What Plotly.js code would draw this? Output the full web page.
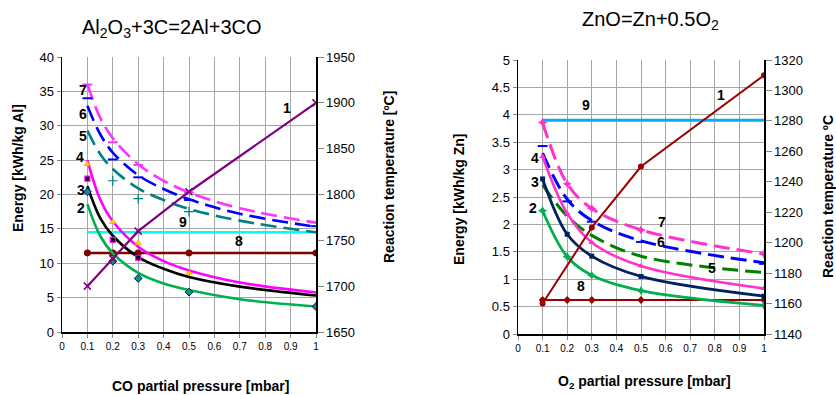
<!DOCTYPE html>
<html>
<head>
<meta charset="utf-8">
<script src="https://cdn.plot.ly/plotly-3.0.1.min.js"></script>
<style>html,body{margin:0;padding:0;background:#fff;}#chart{width:836px;height:395px;}</style>
</head>
<body>
<div id="chart"></div>
<script>
// ---------- Left chart: Al2O3 + 3C = 2Al + 3CO ----------
const pCO = [0.1, 0.2, 0.3, 0.5, 1.0];
const curveX = [0.1, 0.15, 0.2, 0.3, 0.4, 0.5, 0.7, 1.0];
const alCurve2 = [18.6, 14.0, 11.45, 8.6, 7.05, 6.1, 4.77, 3.7];
const alCurve3 = [21.2, 16.6, 14.0, 10.9, 9.2, 8.0, 6.6, 5.3];
const alCurve4 = [25.0, 19.3, 16.1, 12.4, 10.3, 8.95, 7.2, 5.75];
const alCurve5 = [29.3, 25.9, 23.7, 20.9, 19.2, 17.9, 16.2, 14.5];
const alCurve6 = [32.9, 28.8, 26.1, 22.8, 20.8, 19.3, 17.2, 15.3];
const alCurve7 = [36.0, 31.2, 28.2, 24.4, 22.0, 20.3, 18.0, 15.9];
const alPts2 = [20.4, 10.3, 7.8, 5.8, 3.7];
const alPts3X = [0.1, 0.2, 0.3];
const alPts3 = [22.3, 13.4, 10.8];
const alPts4X = [0.1, 0.2, 0.3, 0.5];
const alPts4 = [24.4, 16.0, 12.9, 8.6];
const alPts5X = [0.2, 0.3, 0.5];
const alPts5 = [22.0, 19.4, 17.5];
const alPts6 = [34.0, 25.1, 22.5, 19.2, 15.4];
const alPts7X = [0.1, 0.2, 0.3, 0.5];
const alPts7 = [36.0, 27.6, 24.3, 20.3];
const alTemp1 = [1700, 1730, 1760, 1803, 1900];
const alLine8 = [11.5, 11.5, 11.5, 11.5, 11.5];
const alLine9X = [0.1, 1.0];
const alLine9 = [14.5, 14.5];

// ---------- Right chart: ZnO = Zn + 0.5O2 ----------
const pO2 = [0.1, 0.2, 0.3, 0.5, 1.0];
const zn2 = [2.25, 1.41, 1.07, 0.79, 0.52];
const zn3 = [2.83, 1.82, 1.42, 1.05, 0.69];
const zn4 = [3.24, 2.2, 1.67, 1.24, 0.83];
const zn5 = [2.72, 2.15, 1.8, 1.42, 1.12];
const zn6 = [3.3, 2.46, 2.07, 1.70, 1.30];
const zn6Pts = [3.43, 2.42, 2.05, 1.68, 1.28];
const zn7 = [3.86, 2.74, 2.29, 1.90, 1.46];
const zn8 = [0.62, 0.62, 0.62, 0.62, 0.62];
const zn9X = [0.1, 1.0];
const zn9 = [3.9, 3.9];
const znTempX = [0.1, 0.3, 0.5, 1.0];
const znTemp1 = [1160, 1210, 1250, 1310];

const xTicks = [0, 0.1, 0.2, 0.3, 0.4, 0.5, 0.6, 0.7, 0.8, 0.9, 1];
const xTickText = ['0', '0.1', '0.2', '0.3', '0.4', '0.5', '0.6', '0.7', '0.8', '0.9', '1'];

const FONT = 'Liberation Sans, Arial, sans-serif';
const DASH = '16px,7px';
const sp = {shape: 'spline', smoothing: 1};

function curve(x, y, xa, ya, color, dash, w) {
  return {x: x, y: y, xaxis: xa, yaxis: ya, mode: 'lines', hoverinfo: 'skip',
    line: Object.assign({color: color, width: w || 2.6, dash: dash || 'solid'}, sp), showlegend: false};
}
function pts(x, y, xa, ya, symbol, fill, edge, size, lw) {
  return {x: x, y: y, xaxis: xa, yaxis: ya, mode: 'markers', showlegend: false,
    marker: {symbol: symbol, color: fill, size: size || 6, line: {color: edge, width: lw === undefined ? 1 : lw}}};
}

const traces = [
  // left chart
  curve(alLine9X, alLine9, 'x', 'y', '#00ffff', 'solid', 2.6),
  {x: pCO, y: alLine8, xaxis: 'x', yaxis: 'y', mode: 'lines+markers', showlegend: false,
    line: {color: '#800000', width: 2.4}, marker: {symbol: 'circle', size: 7, color: '#800000'}},
  curve(curveX, alCurve7, 'x', 'y', '#ff33ff', DASH),
  curve(curveX, alCurve6, 'x', 'y', '#0000ff', DASH),
  curve(curveX, alCurve5, 'x', 'y', '#008080', DASH),
  curve(curveX, alCurve4, 'x', 'y', '#ff00ff', 'solid'),
  curve(curveX, alCurve3, 'x', 'y', '#000000', 'solid'),
  curve(curveX, alCurve2, 'x', 'y', '#00b050', 'solid'),
  pts(alPts7X, alPts7, 'x', 'y', 'line-ew', '#ff33ff', '#ff33ff', 7, 2),
  pts(pCO, alPts6, 'x', 'y', 'line-ew', '#0000ff', '#0000ff', 7, 2),
  pts(alPts5X, alPts5, 'x', 'y', 'cross-thin', '#008080', '#008080', 7, 1.2),
  pts(alPts4X, alPts4, 'x', 'y', 'triangle-up', '#ffcc00', '#ff9900', 6, 0.6),
  pts(alPts3X, alPts3, 'x', 'y', 'square', '#000000', '#ff00ff', 5, 1.2),
  pts(pCO, alPts2, 'x', 'y', 'diamond', '#00a060', '#000080', 6, 1),
  {x: pCO, y: alTemp1, xaxis: 'x', yaxis: 'y2', mode: 'lines+markers', showlegend: false,
    line: {color: '#800080', width: 2.2}, marker: {symbol: 'x-thin', size: 7, line: {color: '#800080', width: 1.6}}},

  // right chart
  curve(zn9X, zn9, 'x2', 'y3', '#00b0f0', 'solid', 3),
  {x: pO2, y: zn8, xaxis: 'x2', yaxis: 'y3', mode: 'lines+markers', showlegend: false,
    line: {color: '#990000', width: 2}, marker: {symbol: 'diamond', size: 6, color: '#990000'}},
  {x: pO2, y: zn7, xaxis: 'x2', yaxis: 'y3', mode: 'lines+markers', showlegend: false,
    line: Object.assign({color: '#ff33cc', width: 3, dash: DASH}, sp), marker: {symbol: 'star-diamond', size: 7, color: '#ff33cc'}},
  curve(pO2, zn6, 'x2', 'y3', '#0000ff', DASH, 3),
  pts(pO2, zn6Pts, 'x2', 'y3', 'line-ew', '#0000ff', '#0000ff', 7, 2),
  curve(pO2, zn5, 'x2', 'y3', '#008000', DASH, 3),
  {x: pO2, y: zn4, xaxis: 'x2', yaxis: 'y3', mode: 'lines+markers', showlegend: false,
    line: Object.assign({color: '#ff33cc', width: 2.6}, sp), marker: {symbol: 'triangle-up', size: 6, color: '#ff33cc'}},
  {x: pO2, y: zn3, xaxis: 'x2', yaxis: 'y3', mode: 'lines+markers', showlegend: false,
    line: Object.assign({color: '#002060', width: 2.8}, sp), marker: {symbol: 'square', size: 5, color: '#002060'}},
  {x: pO2, y: zn2, xaxis: 'x2', yaxis: 'y3', mode: 'lines+markers', showlegend: false,
    line: Object.assign({color: '#00b050', width: 2.8}, sp), marker: {symbol: 'star-diamond', size: 7, color: '#00b050'}},
  {x: znTempX, y: znTemp1, xaxis: 'x2', yaxis: 'y4', mode: 'lines+markers', showlegend: false,
    line: {color: '#990000', width: 2}, marker: {symbol: 'circle', size: 6, color: '#990000'}}
];

const GRID = '#a6a6a6';
const tickFont = {family: FONT, size: 13, color: '#000'};
const xTickFont = {family: FONT, size: 10, color: '#000'};

function xAx(domain, anchor) {
  return {domain: domain, anchor: anchor, range: [0, 1], tickmode: 'array', tickvals: xTicks, ticktext: xTickText,
    showgrid: true, gridcolor: GRID, gridwidth: 1, showline: true, linecolor: '#000', linewidth: 1.5,
    ticks: 'outside', ticklen: 4, tickcolor: '#888', tickfont: xTickFont, zeroline: false, fixedrange: true};
}
function yAx(domain, anchor, range, dtick) {
  return {domain: domain, anchor: anchor, range: range, dtick: dtick, showgrid: true, gridcolor: GRID, gridwidth: 1,
    showline: true, linecolor: '#000', linewidth: 1.5, ticks: 'outside', ticklen: 4, tickcolor: '#888',
    tickfont: tickFont, zeroline: false, fixedrange: true};
}
function yRight(over, anchor, range, dtick) {
  return {overlaying: over, anchor: anchor, side: 'right', range: range, dtick: dtick, showgrid: false,
    showline: true, linecolor: '#000', linewidth: 1.5, ticks: 'outside', ticklen: 6, tickcolor: '#888',
    tickfont: tickFont, zeroline: false, fixedrange: true};
}

const lab = (x, y, t, xr, yr) => ({x: x, y: y, xref: xr, yref: yr, text: t, showarrow: false,
  font: {family: FONT, size: 14, color: '#000', weight: 'bold'}});
const pap = (x, y, t, size, bold, angle) => ({x: x, y: y, xref: 'paper', yref: 'paper', text: t, showarrow: false,
  textangle: angle || 0, xanchor: 'center', yanchor: 'middle',
  font: {family: FONT, size: size, color: '#000', weight: bold ? 'bold' : 'normal'}});

const H = 395, W = 836;
const annotations = [
  pap(172 / W, 1 - 28 / H, 'Al<sub>2</sub>O<sub>3</sub>+3C=2Al+3CO', 20, false),
  pap(650 / W, 1 - 20 / H, 'ZnO=Zn+0.5O<sub>2</sub>', 20, false),
  pap(200 / W, 1 - 386 / H, 'CO partial pressure [mbar]', 14, true),
  pap(644 / W, 1 - 382 / H, 'O<sub>2</sub> partial pressure [mbar]', 14, true),
  pap(18 / W, 1 - 168 / H, 'Energy [kWh/kg Al]', 14, true, -90),
  pap(389 / W, 1 - 177 / H, 'Reaction temperature [ºC]', 14, true, -90),
  pap(459 / W, 1 - 199 / H, 'Energy [kWh/kg Zn]', 14, true, -90),
  pap(828 / W, 1 - 197 / H, 'Reaction temperature ºC', 14, true, -90),
  lab(0.886, 32.6, '1', 'x', 'y'), lab(0.075, 18.0, '2', 'x', 'y'), lab(0.075, 20.6, '3', 'x', 'y'),
  lab(0.071, 25.5, '4', 'x', 'y'), lab(0.083, 28.5, '5', 'x', 'y'), lab(0.083, 31.7, '6', 'x', 'y'),
  lab(0.083, 35.2, '7', 'x', 'y'), lab(0.476, 16.0, '9', 'x', 'y'), lab(0.697, 13.2, '8', 'x', 'y'),
  lab(0.825, 4.36, '1', 'x2', 'y3'), lab(0.276, 4.18, '9', 'x2', 'y3'), lab(0.069, 3.21, '4', 'x2', 'y3'),
  lab(0.069, 2.77, '3', 'x2', 'y3'), lab(0.061, 2.30, '2', 'x2', 'y3'), lab(0.585, 2.04, '7', 'x2', 'y3'),
  lab(0.581, 1.68, '6', 'x2', 'y3'), lab(0.789, 1.20, '5', 'x2', 'y3'), lab(0.256, 0.88, '8', 'x2', 'y3')
];

const layout = {
  width: W, height: H, margin: {l: 0, r: 0, t: 0, b: 0}, paper_bgcolor: '#fff', plot_bgcolor: '#fff',
  showlegend: false, font: {family: FONT, color: '#000'},
  xaxis: xAx([62 / W, 316 / W], 'y'),
  yaxis: yAx([63 / H, 338 / H], 'x', [0, 40], 5),
  yaxis2: yRight('y', 'x', [1650, 1950], 50),
  xaxis2: xAx([518 / W, 764 / W], 'y3'),
  yaxis3: yAx([61 / H, 335 / H], 'x2', [0, 5], 0.5),
  yaxis4: yRight('y3', 'x2', [1140, 1320], 20),
  annotations: annotations
};

Plotly.newPlot('chart', traces, layout, {displayModeBar: false, staticPlot: true});
</script>
</body>
</html>
